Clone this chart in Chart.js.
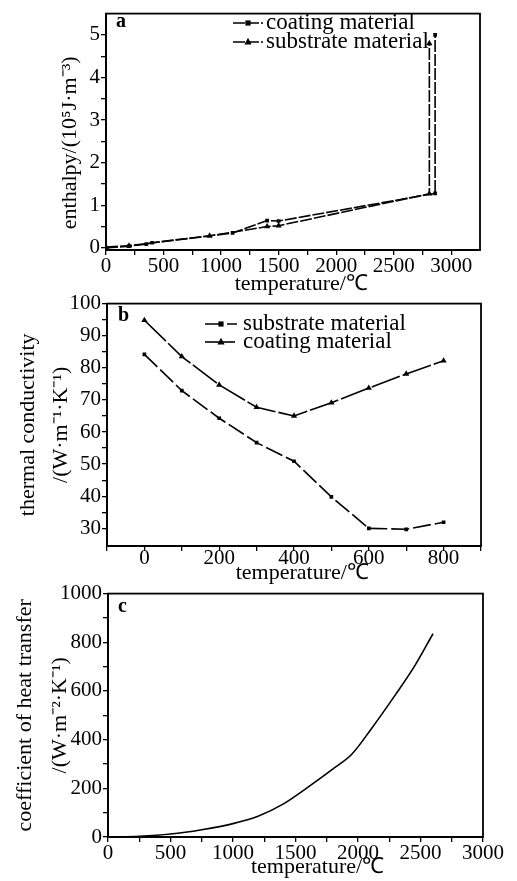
<!DOCTYPE html>
<html><head><meta charset="utf-8">
<script src="https://cdn.jsdelivr.net/npm/chart.js@4.4.0/dist/chart.umd.min.js"></script>
<style>
html,body{margin:0;padding:0;background:#fff;}
body{width:517px;height:881px;position:relative;overflow:hidden;}
.p{position:absolute;left:0;width:517px;}
canvas{display:block;}
</style></head><body>
<div class="p" style="top:0;height:300px"><canvas id="ca" width="517" height="300"></canvas></div>
<div class="p" style="top:290px;height:300px"><canvas id="cb" width="517" height="300"></canvas></div>
<div class="p" style="top:580px;height:301px"><canvas id="cc" width="517" height="301"></canvas></div>
<script>
// ---------- data ----------
// panel a: enthalpy vs temperature
const enthCoatingTemp = [0, 200, 350, 400, 1100, 1400, 1500, 2860, 2860];
const enthCoatingVal  = [0.00, 0.04, 0.09, 0.12, 0.35, 0.64, 0.63, 1.28, 5.0];
const enthSubstrateTemp = [0, 200, 900, 1400, 1500, 2810, 2810];
const enthSubstrateVal  = [0.02, 0.05, 0.28, 0.50, 0.52, 1.27, 4.8];
// panel b: thermal conductivity vs temperature
const condTemp = [0, 100, 200, 300, 400, 500, 600, 700, 800];
const condSubstrate = [84.2, 72.9, 64.3, 56.7, 50.9, 39.8, 30.0, 29.7, 31.9];
const condCoating   = [94.8, 83.5, 74.7, 67.7, 65.0, 69.1, 73.7, 78.1, 82.2];
// panel c: coefficient of heat transfer vs temperature
const htcTemp = [0, 250, 500, 750, 1000, 1200, 1400, 1600, 1800, 1950, 2100, 2300, 2450, 2600];
const htcVal  = [0, 3, 12, 30, 55, 85, 135, 205, 280, 340, 440, 585, 700, 835];
// tick labels
const ticksAX = [0, 500, 1000, 1500, 2000, 2500, 3000];
const ticksAY = [0, 1, 2, 3, 4, 5];
const ticksBX = [0, 200, 400, 600, 800];
const ticksBY = [30, 40, 50, 60, 70, 80, 90, 100];
const ticksCX = [0, 500, 1000, 1500, 2000, 2500, 3000];
const ticksCY = [0, 200, 400, 600, 800, 1000];

// ---------- helpers ----------
const FONT = '"Liberation Serif","Times New Roman",serif';
Chart.defaults.font.family = FONT;
Chart.defaults.color = '#000';
Chart.defaults.animation = false;

const pts = (xs, ys) => xs.map((x, i) => ({x: x, y: ys[i]}));
function stepTicks(a, b, step) {
  return s => { const t = []; for (let v = a; v <= b + 1e-9; v += step) t.push({value: +v.toFixed(6)}); s.ticks = t; };
}
function labelIf(list) { return v => list.some(l => Math.abs(l - v) < 1e-6) ? String(v) : ''; }

function scaleX(o) {
  return {
    type: 'linear', position: 'bottom', min: o.min, max: o.max,
    afterBuildTicks: stepTicks(o.t0, o.t1, o.step),
    afterFit: s => { s.height = o.h; },
    ticks: {autoSkip: false, maxRotation: 0, padding: o.tp, font: {size: 21}, color: '#000', callback: labelIf(o.labels)},
    grid: {drawOnChartArea: false, color: '#000', tickLength: 5, lineWidth: 1.3},
    border: {color: '#000', width: 1.8},
    title: {display: true, text: o.pre + 'temperature/\u2103', font: {size: 22}, color: '#000', padding: {top: 0, bottom: o.titlePad}}
  };
}
function scaleY(o) {
  return {
    type: 'linear', position: 'left', min: o.min, max: o.max,
    afterBuildTicks: stepTicks(o.t0, o.t1, o.step),
    afterFit: s => { s.width = o.w; },
    ticks: {autoSkip: false, padding: 1, font: {size: 21}, color: '#000', callback: labelIf(o.labels)},
    grid: {drawOnChartArea: false, color: '#000', tickLength: 5, lineWidth: 1.3},
    border: {color: '#000', width: 1.8},
    title: {display: true, text: o.text, font: {size: 22, lineHeight: o.lh}, color: '#000', padding: {top: o.titlePad, bottom: 0}}
  };
}

function drawMarker(ctx, style, r, x, y) {
  ctx.beginPath();
  if (style === 'rect') { ctx.rect(x - r, y - r, 2 * r, 2 * r); }
  else { ctx.moveTo(x, y - r * 1.2); ctx.lineTo(x + r, y + r * 0.7); ctx.lineTo(x - r, y + r * 0.7); ctx.closePath(); }
  ctx.fill();
}

const framePlugin = {
  id: 'frame',
  afterDraw(chart, args, opts) {
    const ctx = chart.ctx, a = chart.chartArea;
    ctx.save();
    ctx.strokeStyle = '#000'; ctx.lineWidth = 1.8;
    ctx.strokeRect(a.left, a.top, a.right - a.left, a.bottom - a.top);
    ctx.fillStyle = '#000';
    if (opts.label) {
      ctx.font = 'bold 20px ' + FONT; ctx.textBaseline = 'middle'; ctx.textAlign = 'left';
      ctx.fillText(opts.label, opts.lx, opts.ly);
    }
    if (opts.legend) {
      const L = opts.legend;
      ctx.font = '23px ' + FONT; ctx.textBaseline = 'middle';
      L.order.forEach((di, k) => {
        const ds = chart.data.datasets[di];
        const y = L.y[k];
        ctx.setLineDash(ds.borderDash || []);
        ctx.lineWidth = 1.6;
        ctx.beginPath(); ctx.moveTo(L.x0, y); ctx.lineTo(L.x1, y); ctx.stroke();
        ctx.setLineDash([]);
        drawMarker(ctx, ds.pointStyle, ds.pointRadius, (L.x0 + L.x1) / 2, y);
        ctx.fillText(ds.label, L.tx, y);
      });
    }
    ctx.restore();
  }
};

function lineDs(label, data, style, r, dash) {
  return {label: label, data: data, showLine: true, borderColor: '#000', backgroundColor: '#000',
    borderWidth: 1.6, borderDash: dash, pointStyle: style, pointRadius: r, pointBorderWidth: 0, tension: 0};
}

// ---------- panel a ----------
new Chart(document.getElementById('ca'), {
  type: 'scatter',
  data: {datasets: [
    lineDs('coating material', pts(enthCoatingTemp, enthCoatingVal), 'rect', 2.6, [12, 2]),
    lineDs('substrate material', pts(enthSubstrateTemp, enthSubstrateVal), 'triangle', 3.6, [12, 2])
  ]},
  options: {
    responsive: false,
    layout: {padding: {top: 7, right: 37, left: 0, bottom: 0}},
    scales: {
      x: scaleX({min: 0, max: 3250, t0: 0, t1: 3000, step: 250, labels: ticksAX, h: 50, tp: -1, titlePad: 3.0, pre: '   '}),
      y: scaleY({min: -0.05, max: 5.5, t0: 0, t1: 5, step: 0.5, labels: ticksAY, w: 106, lh: 1.2, titlePad: 56.8,
        text: 'enthalpy/(10\u2075J\u00b7m\u207b\u00b3)    '})
    },
    plugins: {legend: {display: false}, tooltip: {enabled: false},
      frame: {label: 'a', lx: 116, ly: 22, legend: {order: [0, 1], x0: 233, x1: 263, tx: 266, y: [23, 42]}}}
  },
  plugins: [framePlugin]
});

// ---------- panel b ----------
new Chart(document.getElementById('cb'), {
  type: 'scatter',
  data: {datasets: [
    lineDs('substrate material', pts(condTemp, condSubstrate), 'rect', 2.6, [18, 4]),
    lineDs('coating material', pts(condTemp, condCoating), 'triangle', 3.6, [30, 3])
  ]},
  options: {
    responsive: false,
    layout: {padding: {top: 11, right: 36, left: 0, bottom: 0}},
    scales: {
      x: scaleX({min: -100, max: 900, t0: -100, t1: 900, step: 100, labels: ticksBX, h: 44, tp: -5, titlePad: 4.0, pre: '   '}),
      y: scaleY({min: 24.5, max: 100, t0: 30, t1: 100, step: 5, labels: ticksBY, w: 107, lh: 1.5, titlePad: 11.5,
        text: ['thermal conductivity', '/(W\u00b7m\u207b\u00b9\u00b7K\u207b\u00b9)']})
    },
    plugins: {legend: {display: false}, tooltip: {enabled: false},
      frame: {label: 'b', lx: 118, ly: 26, legend: {order: [0, 1], x0: 205, x1: 237, tx: 243, y: [34, 52]}}}
  },
  plugins: [framePlugin]
});

// ---------- panel c ----------
new Chart(document.getElementById('cc'), {
  type: 'scatter',
  data: {datasets: [{
    label: 'coefficient of heat transfer', data: pts(htcTemp, htcVal), showLine: true,
    borderColor: '#000', borderWidth: 1.6, pointRadius: 0, cubicInterpolationMode: 'monotone'
  }]},
  options: {
    responsive: false,
    layout: {padding: {top: 12, right: 34, left: 0, bottom: 0}},
    scales: {
      x: scaleX({min: 0, max: 3000, t0: 0, t1: 3000, step: 250, labels: ticksCX, h: 44, tp: -1, titlePad: 0.2, pre: '        '}),
      y: scaleY({min: 0, max: 1000, t0: 0, t1: 1000, step: 100, labels: ticksCY, w: 108, lh: 1.59, titlePad: 7.5,
        text: ['coefficient of heat transfer', '/(W\u00b7m\u207b\u00b2\u00b7K\u207b\u00b9)']})
    },
    plugins: {legend: {display: false}, tooltip: {enabled: false},
      frame: {label: 'c', lx: 118, ly: 27}}
  },
  plugins: [framePlugin]
});
</script>
</body></html>
